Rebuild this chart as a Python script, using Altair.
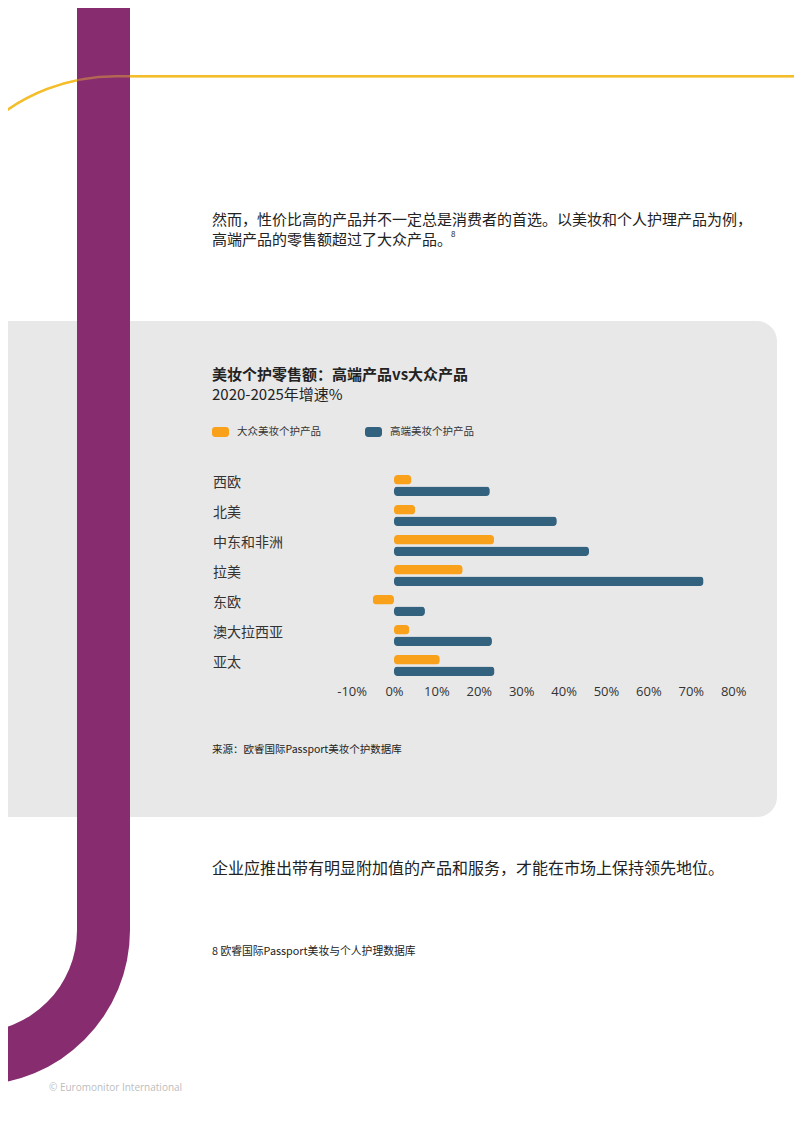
import math
import altair as alt
import pandas as pd

# ---------------- data ----------------
regions = ["西欧", "北美", "中东和非洲", "拉美", "东欧", "澳大拉西亚", "亚太"]
series = ["大众美妆个护产品", "高端美妆个护产品"]
mass_growth = [4.1, 5.0, 23.6, 16.2, -5.0, 3.6, 10.8]
premium_growth = [22.6, 38.4, 46.0, 73.0, 7.3, 23.1, 23.7]
tick_values = [-10, 0, 10, 20, 30, 40, 50, 60, 70, 80]

title_text = "美妆个护零售额：高端产品vs大众产品"
subtitle_text = "2020-2025年增速%"
source_text = "来源：欧睿国际Passport美妆个护数据库"
para_line1 = "然而，性价比高的产品并不一定总是消费者的首选。以美妆和个人护理产品为例，"
para_line2 = "高端产品的零售额超过了大众产品。"
footnote_mark = "8"
conclusion_text = "企业应推出带有明显附加值的产品和服务，才能在市场上保持领先地位。"
footnote_text = "8 欧睿国际Passport美妆与个人护理数据库"
copyright_text = "©  Euromonitor International"

rows = []
for r, m, p in zip(regions, mass_growth, premium_growth):
    rows.append({"region": r, "series": series[0], "value": m})
    rows.append({"region": r, "series": series[1], "value": p})
df = pd.DataFrame(rows)

# ---------------- layout helpers (page pixel -> plot coords) ----------------
PX0, PY0 = 351.6, 470.5          # page position of plot origin
PLOT_W, PLOT_H = 381.6, 210
PAGE_W, PAGE_H = 786, 1117


def X(px):
    return px - PX0


def Y(py):
    return py - PY0


ORANGE = "#F9A11B"
BLUE = "#33627F"
PURPLE = "#862C6F"
YELLOW = "#F4BD2A"
PANEL = "#E8E8E8"
TEXT = "#222222"
CJK = "Noto Sans CJK SC"

one = pd.DataFrame({"k": [0]})

panel = alt.Chart(one).mark_rect(color=PANEL, cornerRadius=20).encode(
    x=alt.value(X(-40)), x2=alt.value(X(777)), y=alt.value(Y(321)), y2=alt.value(Y(817))
)

purple_bar = alt.Chart(one).mark_rect(color=PURPLE).encode(
    x=alt.value(X(77)), x2=alt.value(X(130)), y=alt.value(Y(-20)), y2=alt.value(Y(931))
)
purple_arc = alt.Chart(one).mark_arc(
    color=PURPLE, radius=155, radius2=102, theta=math.pi / 2, theta2=math.pi
).encode(x=alt.value(X(-25)), y=alt.value(Y(930)))


def yellow_curve(opacity):
    arc = alt.Chart(one).mark_arc(
        color=YELLOW, radius=193, radius2=190.6, theta=5.55, theta2=2 * math.pi,
        opacity=opacity,
    ).encode(x=alt.value(X(116)), y=alt.value(Y(268)))
    line = alt.Chart(one).mark_rect(color=YELLOW, opacity=opacity).encode(
        x=alt.value(X(116)), x2=alt.value(X(810)), y=alt.value(Y(75)), y2=alt.value(Y(77.4))
    )
    return [arc, line]


def text_layer(txt, px, py, size, weight="normal", color=TEXT, font=CJK):
    return alt.Chart(one).mark_text(
        text=txt, align="left", baseline="middle", fontSize=size,
        fontWeight=weight, color=color, font=font
    ).encode(x=alt.value(X(px)), y=alt.value(Y(py)))


texts = [
    text_layer(para_line1, 212, 220, 15),
    text_layer(para_line2, 212, 240, 15),
    text_layer(footnote_mark, 451, 235, 8),
    text_layer(title_text, 212, 375, 15, weight="bold"),
    text_layer(subtitle_text, 212, 395, 15),
    text_layer(source_text, 212, 750, 10.5),
    text_layer(conclusion_text, 212, 869, 16),
    text_layer(footnote_text, 212, 952, 10.8),
    text_layer(copyright_text, 49, 1088, 10, color="#BDBDBD", font="Open Sans"),
]

swatch = ("M-0.65,-0.59 H0.65 A0.35,0.35 0 0 1 1,-0.24 V0.24 A0.35,0.35 0 0 1 0.65,0.59 "
          "H-0.65 A0.35,0.35 0 0 1 -1,0.24 V-0.24 A0.35,0.35 0 0 1 -0.65,-0.59 Z")

bars = alt.Chart(df).mark_bar(cornerRadius=3.5).encode(
    y=alt.Y(
        "region:N", sort=regions,
        scale=alt.Scale(paddingInner=0.3, paddingOuter=0.15),
        axis=alt.Axis(
            title=None, domain=False, ticks=False, tickSize=0, grid=False,
            labelAlign="left", labelPadding=PX0 - 212.5, labelBaseline="middle",
            labelOffset=-3, labelFontSize=14, labelFont=CJK, labelColor="#333333",
            zindex=1,
        ),
    ),
    yOffset=alt.YOffset("series:N", sort=series,
                        scale=alt.Scale(paddingInner=0.17, paddingOuter=0)),
    x=alt.X(
        "value:Q",
        scale=alt.Scale(domain=[-10, 80], nice=False),
        axis=alt.Axis(
            title=None, values=tick_values, labelExpr="datum.value + '%'",
            domain=False, ticks=False, tickSize=0, grid=False,
            labelFlush=False, labelOverlap=False, labelPadding=11.2,
            labelBaseline="middle", labelFontSize=13, labelFont="Open Sans",
            labelColor="#333333", zindex=1,
        ),
    ),
    color=alt.Color(
        "series:N", sort=series,
        scale=alt.Scale(domain=series, range=[ORANGE, BLUE]),
        legend=alt.Legend(
            orient="none", legendX=X(212), legendY=Y(423.5), direction="horizontal",
            title=None, symbolType=swatch, symbolSize=289, symbolStrokeWidth=0,
            labelFontSize=10.5, labelFont=CJK, labelColor="#333333",
            labelOffset=8, columnPadding=44, padding=0, zindex=1,
        ),
    ),
)

chart = alt.layer(
    panel, *yellow_curve(1.0), purple_bar, purple_arc, *yellow_curve(0.4), *texts, bars
).properties(
    width=PLOT_W,
    height=PLOT_H,
    padding={"left": PX0 - 8, "top": PY0 - 8,
             "right": PAGE_W - (PX0 - 8) - PLOT_W,
             "bottom": PAGE_H - (PY0 - 8) - PLOT_H},
    autosize=alt.AutoSizeParams(type="none"),
    background="white",
).configure_view(stroke=None)

chart.save("out.html", embed_options={"renderer": "svg", "actions": False})
